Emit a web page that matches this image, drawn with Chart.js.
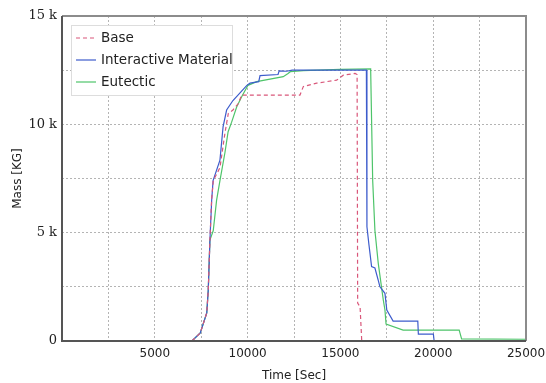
<!DOCTYPE html>
<html>
<head>
<meta charset="utf-8">
<script src="https://cdn.jsdelivr.net/npm/chart.js@4/dist/chart.umd.min.js"></script>
<style>
  html, body { margin: 0; padding: 0; background: #fff; }
  #wrap { width: 546px; height: 383px; }
</style>
</head>
<body>
<div id="wrap"><canvas id="massChart"></canvas></div>
<script>
// series (time in sec, mass in kg)
const seriesNames = ['Base', 'Interactive Material', 'Eutectic'];

const baseTime = [7000, 7450, 7800, 7880, 7970, 8060, 8150, 8510, 8780, 8960, 9210, 9500, 9680, 12820, 13000, 13720, 14800, 15160, 15790, 15900, 15930, 16060, 16150];
const baseMass = [0, 370, 1300, 2350, 4660, 6500, 7400, 8000, 9600, 10500, 10660, 10960, 11350, 11350, 11740, 11900, 12040, 12270, 12350, 12300, 1750, 1580, 0];

const interTime = [7000, 7450, 7800, 7880, 7970, 8065, 8140, 8510, 8680, 8870, 9210, 9960, 10130, 10600, 10670, 11640, 11700, 12100, 12400, 16400, 16430, 16540, 16680, 16860, 17040, 17130, 17400, 17500, 17840, 19170, 19200, 20010, 20050];
const interMass = [0, 370, 1300, 2350, 4660, 6500, 7400, 8350, 9900, 10660, 11100, 11800, 11900, 11970, 12250, 12300, 12470, 12450, 12500, 12500, 5270, 4430, 3430, 3370, 2800, 2500, 2200, 1430, 920, 920, 320, 320, 0];

const eutTime = [7000, 7450, 7800, 7880, 7970, 8150, 8330, 8510, 8780, 8950, 9140, 9410, 9680, 10020, 10490, 11920, 12180, 12300, 13000, 15000, 16630, 16740, 16860, 17040, 17310, 17400, 17460, 18380, 21400, 21530, 25000];
const eutMass = [0, 370, 1300, 2350, 4660, 5100, 6500, 7400, 8700, 9660, 10100, 10800, 11270, 11800, 11970, 12200, 12350, 12430, 12480, 12540, 12560, 7400, 5100, 3580, 1900, 1430, 780, 500, 500, 100, 80];

const lineColors = ['#d9577a', '#3d5ccc', '#4ec46a'];

const toPoints = (xs, ys) => xs.map((x, i) => ({ x: x, y: ys[i] }));

// frame round the plot + legend box in the upper left
const framePlugin = {
    id: 'frame',
    afterDraw(chart) {
        const { ctx, chartArea: a } = chart;
        ctx.save();
        ctx.lineWidth = 2;
        ctx.strokeStyle = '#8c8c8c';
        ctx.beginPath();
        ctx.moveTo(a.left, a.top);
        ctx.lineTo(a.right, a.top);
        ctx.lineTo(a.right, a.bottom);
        ctx.stroke();
        ctx.strokeStyle = '#555';
        ctx.beginPath();
        ctx.moveTo(a.left, a.top);
        ctx.lineTo(a.left, a.bottom);
        ctx.lineTo(a.right, a.bottom);
        ctx.stroke();

        // legend
        const bx = a.left + 9, by = a.top + 9, bw = 161, bh = 70;
        ctx.fillStyle = '#fff';
        ctx.fillRect(bx, by, bw, bh);
        ctx.lineWidth = 1;
        ctx.strokeStyle = '#ddd';
        ctx.strokeRect(bx + 0.5, by + 0.5, bw, bh);
        ctx.font = '13.5px "DejaVu Sans"';
        ctx.textBaseline = 'middle';
        chart.data.datasets.forEach((ds, i) => {
            const yy = by + 13 + i * 22;
            ctx.strokeStyle = ds.borderColor;
            ctx.lineWidth = 1.2;
            ctx.setLineDash(ds.borderDash || []);
            ctx.beginPath();
            ctx.moveTo(bx + 5, yy);
            ctx.lineTo(bx + 25, yy);
            ctx.stroke();
            ctx.setLineDash([]);
            ctx.fillStyle = '#222';
            ctx.fillText(ds.label, bx + 30, yy);
        });
        ctx.restore();
    }
};

window.addEventListener("DOMContentLoaded", () => {
    const ctx = document.getElementById("massChart").getContext("2d");

    new Chart(ctx, {
        type: 'line',
        data: {
            datasets: [
                {
                    label: seriesNames[0],
                    data: toPoints(baseTime, baseMass),
                    borderColor: lineColors[0],
                    borderDash: [4, 3],
                    borderWidth: 1.2
                },
                {
                    label: seriesNames[1],
                    data: toPoints(interTime, interMass),
                    borderColor: lineColors[1],
                    borderWidth: 1.2
                },
                {
                    label: seriesNames[2],
                    data: toPoints(eutTime, eutMass),
                    borderColor: lineColors[2],
                    borderWidth: 1.2
                }
            ]
        },
        options: {
            responsive: true,
            maintainAspectRatio: false,
            animation: false,
            layout: { padding: { top: 16, right: 20, left: 0, bottom: 0 } },
            elements: { point: { radius: 0 }, line: { tension: 0, fill: false } },
            plugins: {
                legend: { display: false },
                tooltip: { enabled: false }
            },
            scales: {
                x: {
                    type: 'linear',
                    min: 0,
                    max: 25000,
                    afterFit: s => { s.height = 42; s.paddingLeft = 0; s.paddingRight = 0; },
                    ticks: {
                        stepSize: 2500,
                        autoSkip: false,
                        maxRotation: 0,
                        padding: 6,
                        color: '#222',
                        font: { family: 'DejaVu Sans', size: 12 },
                        callback: v => (v === 0 || v % 5000) ? '' : String(v)
                    },
                    grid: { color: '#b4b4b4', lineWidth: 1, drawTicks: false },
                    border: { display: false, dash: [2, 2] },
                    title: {
                        display: true,
                        text: 'Time [Sec]',
                        color: '#222',
                        font: { family: 'DejaVu Sans', size: 12 },
                        padding: { top: 0, bottom: 0 }
                    }
                },
                y: {
                    min: 0,
                    max: 15000,
                    afterFit: s => { s.width = 62; s.paddingTop = 0; s.paddingBottom = 0; },
                    ticks: {
                        stepSize: 2500,
                        autoSkip: false,
                        padding: 5,
                        color: '#222',
                        font: { family: 'DejaVu Serif', size: 13 },
                        callback: v => v % 5000 ? '' : (v === 0 ? '0' : (v / 1000) + ' k')
                    },
                    grid: { color: '#b4b4b4', lineWidth: 1, drawTicks: false },
                    border: { display: false, dash: [2, 2] },
                    title: {
                        display: true,
                        text: 'Mass [KG]',
                        color: '#222',
                        font: { family: 'DejaVu Sans', size: 12 },
                        padding: { top: 11, bottom: 0 }
                    }
                }
            }
        },
        plugins: [framePlugin]
    });
});
</script>
</body>
</html>
